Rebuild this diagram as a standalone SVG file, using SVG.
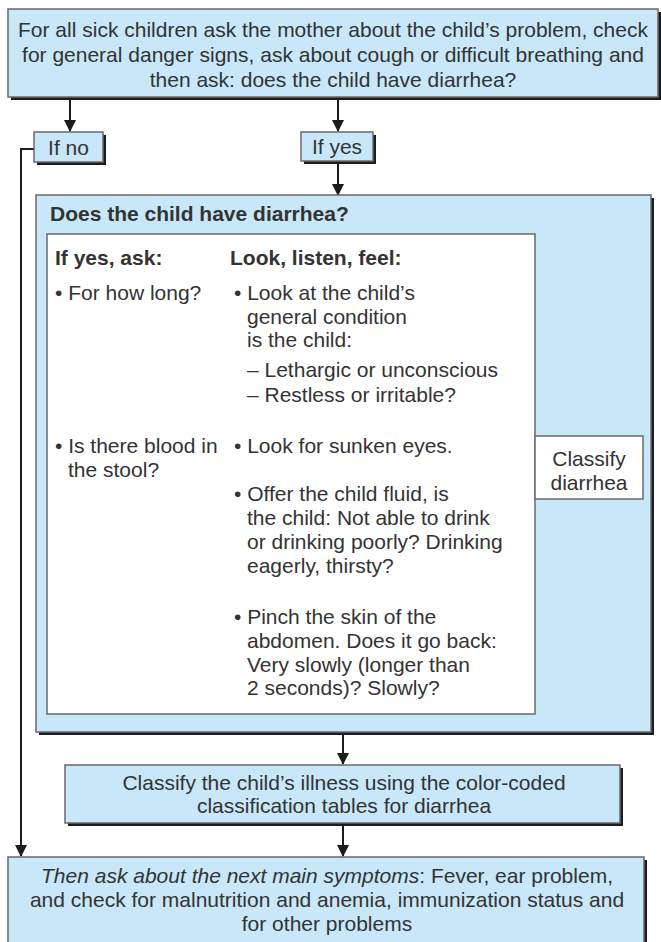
<svg xmlns="http://www.w3.org/2000/svg" width="661" height="942" viewBox="0 0 661 942">
<defs>
<style>
.box{fill:#c8e7f8;stroke:#6a6a6a;stroke-width:1.5}
.wbox{fill:#ffffff;stroke:#6a6a6a;stroke-width:1.5}
.sh{fill:#1c1c1c}
.t{font-family:"Liberation Sans",Arial,sans-serif;font-size:21px;fill:#333333}
.c{text-anchor:middle}
.b{font-weight:bold}
.ln{stroke:#1c1c1c;stroke-width:2;fill:none}
</style>
<marker id="ah" viewBox="0 0 12 14" refX="11" refY="6" markerWidth="12" markerHeight="14" markerUnits="userSpaceOnUse" orient="auto">
<path d="M0,0 L12,6 L0,12 Z" fill="#1c1c1c"/>
</marker>
</defs>
<rect width="661" height="942" fill="#ffffff"/>

<g id="connectors">
<line class="ln" x1="70" y1="100" x2="70" y2="131" marker-end="url(#ah)"/>
<line class="ln" x1="338" y1="100" x2="338" y2="131" marker-end="url(#ah)"/>
<line class="ln" x1="338" y1="163" x2="338" y2="195" marker-end="url(#ah)"/>
<polyline class="ln" points="34,149 21,149 21,856" marker-end="url(#ah)"/>
<line class="ln" x1="343" y1="735" x2="343" y2="764" marker-end="url(#ah)"/>
<line class="ln" x1="343" y1="826" x2="343" y2="856" marker-end="url(#ah)"/>
</g>

<g id="start">
<rect class="sh" x="11" y="12" width="650" height="88"/>
<rect class="box" x="8" y="9" width="650" height="88"/>
<text class="t c" x="333" y="37">For all sick children ask the mother about the child’s problem, check</text>
<text class="t c" x="333" y="62">for general danger signs, ask about cough or difficult breathing and</text>
<text class="t c" x="333" y="87">then ask: does the child have diarrhea?</text>
</g>

<g id="ifno">
<rect class="sh" x="37" y="135" width="69" height="30"/>
<rect class="box" x="34" y="132" width="69" height="30"/>
<text class="t c" x="68.5" y="155">If no</text>
</g>

<g id="ifyes">
<rect class="sh" x="304" y="135" width="72" height="29"/>
<rect class="box" x="301" y="132" width="72" height="29"/>
<text class="t c" x="337" y="154">If yes</text>
</g>

<g id="assess">
<rect class="sh" x="39" y="198" width="615" height="537"/>
<rect class="box" x="36" y="195" width="615" height="537"/>
<text class="t b" x="50" y="221">Does the child have diarrhea?</text>
<rect class="wbox" x="47" y="234" width="488" height="480"/>
<text class="t b" x="55" y="265">If yes, ask:</text>
<text class="t b" x="230" y="265">Look, listen, feel:</text>
<text class="t" x="55" y="300">• For how long?</text>
<text class="t" x="55" y="453">• Is there blood in</text>
<text class="t" x="68" y="477">the stool?</text>
<text class="t" x="234" y="300">• Look at the child’s</text>
<text class="t" x="247" y="324">general condition</text>
<text class="t" x="247" y="347">is the child:</text>
<text class="t" x="247" y="377">– Lethargic or unconscious</text>
<text class="t" x="247" y="402">– Restless or irritable?</text>
<text class="t" x="234" y="453">• Look for sunken eyes.</text>
<text class="t" x="234" y="501">• Offer the child fluid, is</text>
<text class="t" x="247" y="525">the child: Not able to drink</text>
<text class="t" x="247" y="549">or drinking poorly? Drinking</text>
<text class="t" x="247" y="573">eagerly, thirsty?</text>
<text class="t" x="234" y="624">• Pinch the skin of the</text>
<text class="t" x="247" y="648">abdomen. Does it go back:</text>
<text class="t" x="247" y="672">Very slowly (longer than</text>
<text class="t" x="247" y="695">2 seconds)? Slowly?</text>
</g>

<g id="classify-diarrhea">
<rect class="wbox" x="535" y="436" width="108" height="63"/>
<text class="t c" x="589" y="466">Classify</text>
<text class="t c" x="589" y="490">diarrhea</text>
</g>

<g id="classify-illness">
<rect class="sh" x="68" y="768" width="555" height="58"/>
<rect class="box" x="65" y="765" width="555" height="58"/>
<text class="t c" x="344" y="790">Classify the child’s illness using the color-coded</text>
<text class="t c" x="344" y="813">classification tables for diarrhea</text>
</g>

<g id="next">
<rect class="sh" x="11" y="860" width="636" height="90"/>
<rect class="box" x="8" y="857" width="636" height="90"/>
<text class="t c" x="327" y="883"><tspan font-style="italic">Then ask about the next main symptoms</tspan>: Fever, ear problem,</text>
<text class="t c" x="327" y="907">and check for malnutrition and anemia, immunization status and</text>
<text class="t c" x="327" y="931">for other problems</text>
</g>
</svg>
